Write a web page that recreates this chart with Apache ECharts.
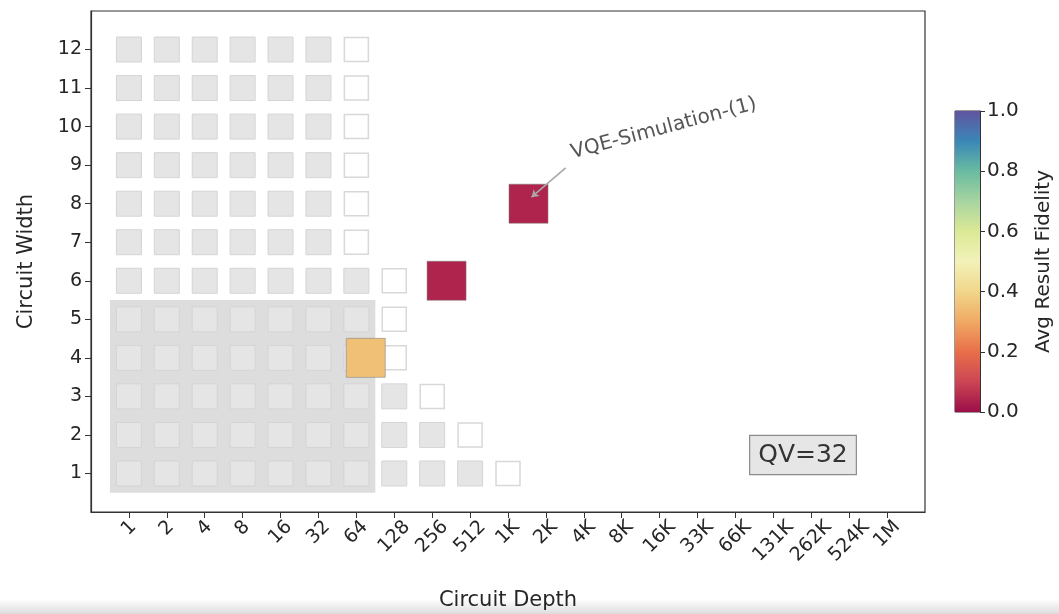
<!DOCTYPE html>
<html>
<head>
<meta charset="utf-8">
<script src="https://cdn.jsdelivr.net/npm/echarts@6/dist/echarts.min.js"></script>
<style>
  html, body { margin: 0; padding: 0; background: #ffffff; }
  #chart { width: 1059px; height: 614px; }
</style>
</head>
<body>
<div id="chart"></div>
<script>
// ---- data ----
const depthLabels = ['1','2','4','8','16','32','64','128','256','512','1K','2K','4K','8K','16K','33K','66K','131K','262K','524K','1M'];
const widthTicks = [1,2,3,4,5,6,7,8,9,10,11,12];
// number of grey (tested) cells in each width row, starting at depth index 0
const filledCount = [10, 9, 8, 7, 7, 7, 6, 6, 6, 6, 6, 6];
// depth index of the outlined (empty) cell in each width row
const emptyDepthIdx = [10, 9, 8, 7, 7, 7, 6, 6, 6, 6, 6, 6];
// application results
const resultDepth = [76, 333, 1490];
const resultWidth = [4, 6, 8];
const resultFidelity = [0.35, 0.04, 0.04];
// quantum-volume region (depth index range, width range)
const qvDepthRange = [-0.5, 6.5];
const qvWidthRange = [0.5, 5.5];
const qvText = 'QV=32';
// annotation
const annText = 'VQE-Simulation-(1)';
const annTextPos = [11.74, 9.06];
const annArrowFrom = [11.52, 8.93];
const annArrowTo = [10.62, 8.17];
// (slightly muted) Spectral colour map, 0 -> 1
const spectral = ['#9b0e48','#cc4554','#e86f49','#f0a964','#f1d68a','#f2f2b9','#dce996','#a7d4a0','#69bba1','#3a87b7','#61549f'];

// ---- build series data ----
const greyData = [];
const emptyData = [];
widthTicks.forEach((w, i) => {
  for (let d = 0; d < filledCount[i]; d++) greyData.push([d, w]);
  emptyData.push([emptyDepthIdx[i], w]);
});
const resultData = resultDepth.map((d, i) => [Math.log2(d), resultWidth[i], resultFidelity[i]]);

const FONT = 'DejaVu Sans';
const TXT = '#262626';
const TICK_FS = 19;

// per-label rich styles so rotated labels are centred under their ticks (matplotlib style)
const mctx = document.createElement('canvas').getContext('2d');
mctx.font = TICK_FS + 'px "DejaVu Sans"';
const richX = {};
depthLabels.forEach((lab, i) => {
  const w = mctx.measureText(lab).width;
  richX['l' + i] = { fontSize: TICK_FS, fontFamily: FONT, color: TXT, padding: [0.5 * w, 0.5 * w, 0, 0] };
});

const chart = echarts.init(document.getElementById('chart'), null, { renderer: 'canvas' });

const option = {
  animation: false,
  backgroundColor: '#ffffff',
  textStyle: { fontFamily: FONT },
  grid: [
    { left: 91, top: 11, width: 834, height: 501, show: true, borderColor: '#333', borderWidth: 1.2, backgroundColor: 'transparent', outerBoundsMode: 'none', containLabel: false },
    { left: 955, top: 111, width: 25, height: 301, show: true, borderColor: '#333', borderWidth: 1, backgroundColor: 'transparent', outerBoundsMode: 'none', containLabel: false }
  ],
  xAxis: [
    {
      gridIndex: 0, type: 'value', min: -1, max: 21, interval: 1,
      splitLine: { show: false },
      axisLine: { show: true, onZero: false, lineStyle: { color: '#333', width: 1.2 } },
      axisTick: { show: true, length: 6, lineStyle: { color: '#333' }, customValues: depthLabels.map((_, i) => i) },
      axisLabel: {
        customValues: depthLabels.map((_, i) => i),
        formatter: v => { const i = Math.round(v); return depthLabels[i] ? '{l' + i + '|' + depthLabels[i] + '}' : ''; },
        rich: richX,
        rotate: 45, align: 'center', verticalAlign: 'middle', margin: 12,
        fontSize: TICK_FS, color: TXT, fontFamily: FONT, hideOverlap: false
      },
      name: 'Circuit Depth', nameLocation: 'middle', nameGap: 78,
      nameTextStyle: { fontSize: 21, color: TXT, fontFamily: FONT }
    },
    { gridIndex: 1, type: 'category', data: ['cb'], show: false, boundaryGap: true }
  ],
  yAxis: [
    {
      gridIndex: 0, type: 'value', min: 0, max: 13, interval: 1,
      splitLine: { show: false },
      axisLine: { show: true, onZero: false, lineStyle: { color: '#333', width: 1.2 } },
      axisTick: { show: true, length: 6, lineStyle: { color: '#333' }, customValues: widthTicks },
      axisLabel: { customValues: widthTicks, margin: 9, fontSize: TICK_FS, color: TXT, fontFamily: FONT },
      name: 'Circuit Width', nameLocation: 'middle', nameGap: 54, nameRotate: 90,
      nameTextStyle: { fontSize: 21, color: TXT, fontFamily: FONT }
    },
    {
      gridIndex: 1, type: 'value', position: 'right', min: 0, max: 1, interval: 0.2,
      splitLine: { show: false },
      axisLine: { show: true, lineStyle: { color: '#333' } },
      axisTick: { show: true, length: 5, inside: false, lineStyle: { color: '#333' } },
      axisLabel: { formatter: v => v.toFixed(1), margin: 7, fontSize: 20, color: TXT, fontFamily: FONT },
      name: 'Avg Result Fidelity', nameLocation: 'middle', nameGap: 54, nameRotate: 90,
      nameTextStyle: { fontSize: 20, color: TXT, fontFamily: FONT }
    }
  ],
  visualMap: {
    show: false, type: 'continuous', min: 0, max: 1, dimension: 2, seriesIndex: 3,
    inRange: { color: spectral }
  },
  series: [
    {
      type: 'scatter', xAxisIndex: 0, yAxisIndex: 0, data: [], z: 1, silent: true,
      markArea: {
        silent: true,
        itemStyle: { color: '#dddddd' },
        data: [[{ xAxis: qvDepthRange[0], yAxis: qvWidthRange[0] }, { xAxis: qvDepthRange[1], yAxis: qvWidthRange[1] }]]
      }
    },
    {
      type: 'scatter', xAxisIndex: 0, yAxisIndex: 0, z: 2, silent: true,
      symbol: 'rect', symbolSize: 25,
      itemStyle: { color: '#e5e5e5', borderColor: '#d4d4d4', borderWidth: 1, opacity: 1 },
      data: greyData
    },
    {
      type: 'scatter', xAxisIndex: 0, yAxisIndex: 0, z: 2, silent: true,
      symbol: 'rect', symbolSize: 24,
      itemStyle: { color: '#ffffff', borderColor: '#d8d8d8', borderWidth: 1.5, opacity: 1 },
      data: emptyData
    },
    {
      type: 'scatter', xAxisIndex: 0, yAxisIndex: 0, z: 3, silent: true,
      symbol: 'rect', symbolSize: 39,
      itemStyle: { borderColor: 'rgba(120,120,120,0.5)', borderWidth: 1, opacity: 1 },
      data: resultData
    },
    {
      type: 'lines', coordinateSystem: 'cartesian2d', xAxisIndex: 0, yAxisIndex: 0, z: 4, silent: true,
      symbol: ['none', 'arrow'], symbolSize: 7,
      lineStyle: { color: '#a8a8a8', width: 1.6, opacity: 1 },
      data: [{ coords: [annArrowFrom, annArrowTo] }]
    },
    {
      type: 'bar', xAxisIndex: 1, yAxisIndex: 1, barWidth: '100%', silent: true, z: 1,
      itemStyle: {
        color: new echarts.graphic.LinearGradient(0, 0, 0, 1,
          spectral.slice().reverse().map((c, i) => ({ offset: i / (spectral.length - 1), color: c })))
      },
      data: [1]
    }
  ]
};
chart.setOption(option);

const p = chart.convertToPixel({ gridIndex: 0 }, annTextPos);
chart.setOption({
  graphic: [
    {
      type: 'text', x: p[0], y: p[1], rotation: 15 * Math.PI / 180, z: 10, silent: true,
      style: { text: annText, fontSize: 20, fontFamily: FONT, fill: '#555555', align: 'left', verticalAlign: 'bottom' }
    },
    {
      type: 'text', x: 803, y: 455, z: 10, silent: true,
      style: {
        text: qvText, fontSize: 25, fontFamily: FONT, fill: '#333333', align: 'center', verticalAlign: 'middle',
        backgroundColor: '#e6e6e6', borderColor: '#8c8c8c', borderWidth: 1.2, padding: [7, 8, 6, 8]
      }
    },
    {
      type: 'rect', left: 0, top: 599, z: -1, silent: true,
      shape: { width: 1059, height: 15 },
      style: { fill: new echarts.graphic.LinearGradient(0, 0, 0, 1, [{ offset: 0, color: '#ffffff' }, { offset: 1, color: '#dcdcdc' }]) }
    }
  ]
});
</script>
</body>
</html>
